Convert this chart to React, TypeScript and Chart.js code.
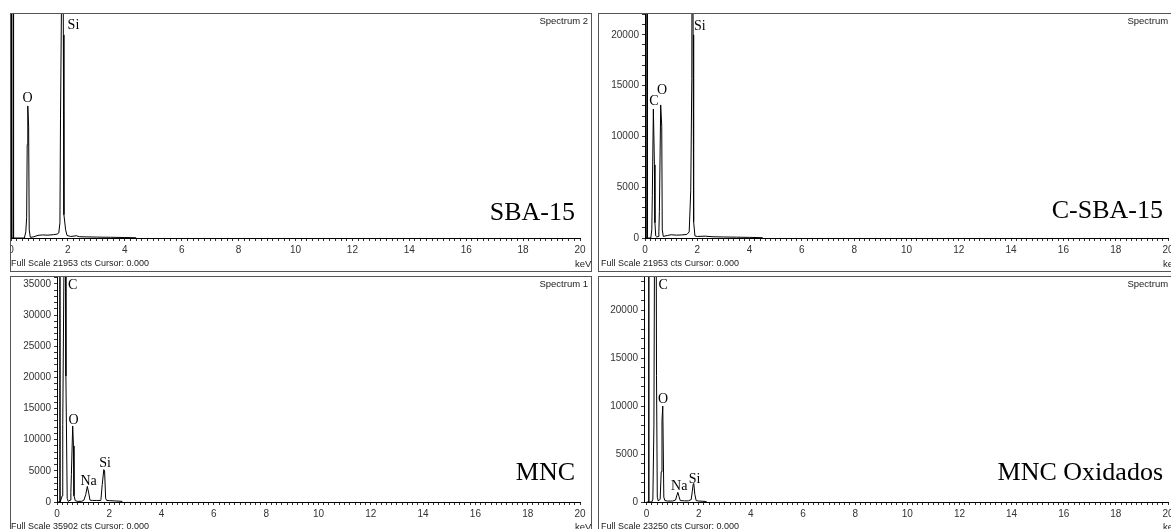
import React, { useEffect, useRef } from 'react';
import { Chart, registerables } from 'chart.js';

Chart.register(...registerables);

// ---------------- data ----------------
const xTickLabels = ['0', '2', '4', '6', '8', '10', '12', '14', '16', '18', '20'];
const yTickLabels22k = ['0', '5000', '10000', '15000', '20000'];
const yTickLabels36k = ['0', '5000', '10000', '15000', '20000', '25000', '30000', '35000'];

const sampleNames = ['SBA-15', 'C-SBA-15', 'MNC', 'MNC Oxidados'];
const spectrumNames = ['Spectrum 2', 'Spectrum 3', 'Spectrum 1', 'Spectrum 4'];
const fullScales = [21953, 21953, 35902, 23250];

// SBA-15 (keV, counts)
const sba15Energy = [0, 0.07, 0.08, 0.09, 0.47, 0.52, 0.55, 0.57, 0.59, 0.62, 0.64, 0.68, 0.8, 0.95, 1.1, 1.3, 1.5, 1.62, 1.68, 1.72, 1.74, 1.78, 1.81, 1.84, 1.86, 1.92, 1.97, 2.1, 2.3, 2.4, 2.6, 3.0, 3.5, 4.0, 4.4];
const sba15Counts = [0, 0, 40000, 0, 0, 600, 2000, 9200, 13000, 11000, 800, 60, 120, 260, 300, 280, 330, 380, 500, 1500, 11800, 25000, 45000, 20000, 2300, 800, 250, 150, 220, 130, 110, 90, 70, 50, 20];

// C-SBA-15
const cSbaEnergy = [0, 0.07, 0.08, 0.09, 0.22, 0.26, 0.28, 0.32, 0.36, 0.38, 0.41, 0.45, 0.5, 0.53, 0.55, 0.6, 0.64, 0.66, 0.7, 0.85, 1.0, 1.2, 1.4, 1.6, 1.69, 1.75, 1.79, 1.81, 1.84, 1.86, 1.91, 2.0, 2.3, 2.6, 3.0, 3.5, 4.0, 4.5];
const cSbaCounts = [0, 0, 40000, 0, 0, 800, 4200, 12700, 7200, 1500, 200, 100, 150, 600, 2600, 13100, 11000, 800, 150, 250, 320, 280, 300, 350, 600, 4700, 15700, 45000, 20000, 1600, 200, 150, 180, 120, 100, 80, 60, 30];

// MNC
const mncEnergy = [0, 0.1, 0.11, 0.12, 0.15, 0.2, 0.22, 0.27, 0.3, 0.33, 0.34, 0.39, 0.43, 0.5, 0.53, 0.55, 0.6, 0.63, 0.65, 0.7, 0.8, 0.95, 1.03, 1.1, 1.16, 1.22, 1.26, 1.35, 1.5, 1.65, 1.68, 1.73, 1.79, 1.82, 1.86, 1.9, 2.0, 2.2, 2.5];
const mncCounts = [0, 0, 60000, 0, 0, 1000, 12400, 40000, 60000, 40000, 20200, 600, 100, 300, 1500, 4400, 12200, 9000, 1000, 200, 100, 120, 300, 1200, 2500, 1300, 300, 250, 250, 250, 400, 2800, 5200, 5000, 600, 250, 220, 180, 100];

// MNC Oxidados
const mncOxEnergy = [0, 0.07, 0.08, 0.09, 0.2, 0.24, 0.28, 0.32, 0.36, 0.38, 0.41, 0.45, 0.52, 0.56, 0.59, 0.62, 0.66, 0.7, 0.8, 1.0, 1.11, 1.16, 1.2, 1.24, 1.29, 1.45, 1.6, 1.71, 1.75, 1.79, 1.81, 1.85, 1.9, 2.0, 2.3];
const mncOxCounts = [0, 0, 40000, 0, 0, 300, 8000, 40000, 40000, 13200, 500, 100, 300, 3150, 8500, 10000, 500, 150, 100, 100, 200, 700, 1000, 600, 150, 120, 120, 250, 1060, 1900, 1930, 800, 150, 100, 50];

// peak labels: element, energy (keV), counts (baseline), anchor
const sba15Peaks = [
  { text: 'O', x: 0.58, y: 13400, align: 'center' },
  { text: 'Si', x: 1.99, y: 20600, align: 'left' },
];
const cSbaPeaks = [
  { text: 'C', x: 0.34, y: 13100, align: 'center' },
  { text: 'O', x: 0.65, y: 14200, align: 'center' },
  { text: 'Si', x: 1.87, y: 20500, align: 'left' },
];
const mncPeaks = [
  { text: 'C', x: 0.42, y: 34200, align: 'left' },
  { text: 'O', x: 0.63, y: 12500, align: 'center' },
  { text: 'Na', x: 1.21, y: 2700, align: 'center' },
  { text: 'Si', x: 1.84, y: 5600, align: 'center' },
];
const mncOxPeaks = [
  { text: 'C', x: 0.46, y: 22200, align: 'left' },
  { text: 'O', x: 0.63, y: 10300, align: 'center' },
  { text: 'Na', x: 1.25, y: 1250, align: 'center' },
  { text: 'Si', x: 1.84, y: 2000, align: 'center' },
];

// ---------------- layout ----------------
const PW = 582;
const PH = 259;
const X_MINOR = 0.2;
const Y_MINOR = 1000;

const panels = [
  { left: 10, top: 13, xMin: 0, yMax: 22050, yAxisW: 1, showY: false, xAxisH: 34, nameY: 207, fsX: 1,
    energy: sba15Energy, counts: sba15Counts, peaks: sba15Peaks, yLabels: yTickLabels22k,
    name: sampleNames[0], spectrum: spectrumNames[0], full: fullScales[0] },
  { left: 598, top: 13, xMin: 0, yMax: 22050, yAxisW: 47, showY: true, xAxisH: 34, nameY: 205, fsX: 3,
    energy: cSbaEnergy, counts: cSbaCounts, peaks: cSbaPeaks, yLabels: yTickLabels22k,
    name: sampleNames[1], spectrum: spectrumNames[1], full: fullScales[1] },
  { left: 10, top: 276, xMin: 0, yMax: 36100, yAxisW: 47, showY: true, xAxisH: 33, nameY: 204, fsX: 1,
    energy: mncEnergy, counts: mncCounts, peaks: mncPeaks, yLabels: yTickLabels36k,
    name: sampleNames[2], spectrum: spectrumNames[2], full: fullScales[2] },
  { left: 598, top: 276, xMin: -0.1, yMax: 23450, yAxisW: 46, showY: true, xAxisH: 33, nameY: 204, fsX: 3,
    energy: mncOxEnergy, counts: mncOxCounts, peaks: mncOxPeaks, yLabels: yTickLabels22k,
    name: sampleNames[3], spectrum: spectrumNames[3], full: fullScales[3] },
];

type PanelCfg = (typeof panels)[number];

function minorTicks(from: number, to: number, step: number) {
  const out: { value: number }[] = [];
  const n0 = Math.ceil(from / step - 1e-9);
  const n1 = Math.floor(to / step + 1e-9);
  for (let n = n0; n <= n1; n++) out.push({ value: Math.round(n * step * 1000) / 1000 });
  return out;
}

function Panel({ p }: { p: PanelCfg }) {
  const ref = useRef<HTMLCanvasElement | null>(null);

  useEffect(() => {
    const canvas = ref.current;
    if (!canvas) return;

    const deco = {
      id: 'deco',
      afterDraw(chart: any) {
        const { ctx, width, height } = chart;
        const xs = chart.scales.x;
        const ys = chart.scales.y;
        ctx.save();
        ctx.strokeStyle = '#555';
        ctx.lineWidth = 1;
        ctx.strokeRect(0.5, 0.5, width - 1, height - 1);

        ctx.fillStyle = '#222';
        ctx.textBaseline = 'alphabetic';
        ctx.font = '9.5px "Liberation Sans"';
        ctx.textAlign = 'right';
        ctx.fillText(p.spectrum, 578, 11);

        ctx.textAlign = 'left';
        ctx.font = '9px "Liberation Sans"';
        ctx.fillText(`Full Scale ${p.full} cts Cursor: 0.000`, p.fsX, 253);
        ctx.font = '9.5px "Liberation Sans"';
        ctx.fillText('keV', 565, 254);

        ctx.fillStyle = '#000';
        ctx.font = '26px "Liberation Serif"';
        ctx.textAlign = 'right';
        ctx.fillText(p.name, 565, p.nameY);

        ctx.font = '14px "Liberation Serif"';
        for (const l of p.peaks) {
          ctx.textAlign = l.align as CanvasTextAlign;
          ctx.fillText(l.text, xs.getPixelForValue(l.x), ys.getPixelForValue(l.y));
        }
        ctx.restore();
      },
    };

    const chart = new Chart(canvas, {
      type: 'line',
      data: {
        datasets: [
          {
            data: p.energy.map((e, i) => ({ x: e, y: p.counts[i] })),
            borderColor: '#000',
            borderWidth: 1,
            pointRadius: 0,
            tension: 0,
            fill: false,
          },
        ],
      },
      options: {
        responsive: false,
        animation: false,
        devicePixelRatio: 1,
        events: [],
        layout: { padding: { left: 0, top: 1, right: PW - 570, bottom: 0 } },
        plugins: { legend: { display: false }, tooltip: { enabled: false } },
        scales: {
          x: {
            type: 'linear',
            min: p.xMin,
            max: 20,
            afterBuildTicks: (s: any) => {
              s.ticks = minorTicks(Math.max(0, p.xMin), 20, X_MINOR);
            },
            afterFit: (s: any) => {
              s.height = p.xAxisH;
              s.paddingLeft = 0;
              s.paddingRight = 0;
            },
            ticks: {
              autoSkip: false,
              maxRotation: 0,
              minRotation: 0,
              padding: 3,
              color: '#333',
              font: { family: '"Liberation Sans"', size: 10 },
              callback: (v: any) => {
                const s = String(Math.round(Number(v) * 1000) / 1000);
                return xTickLabels.includes(s) ? s : '';
              },
            },
            grid: { drawOnChartArea: false, tickLength: 3, color: '#333' },
            border: { display: true, color: '#000', width: 1 },
          },
          y: {
            type: 'linear',
            min: 0,
            max: p.yMax,
            afterBuildTicks: (s: any) => {
              s.ticks = minorTicks(0, p.yMax, Y_MINOR);
            },
            afterFit: (s: any) => {
              s.width = p.yAxisW;
              s.paddingTop = 0;
              s.paddingBottom = 0;
            },
            ticks: {
              display: p.showY,
              autoSkip: false,
              padding: 3,
              color: '#333',
              font: { family: '"Liberation Sans"', size: 10 },
              callback: (v: any) => {
                const s = String(Math.round(Number(v)));
                return p.yLabels.includes(s) ? s : '';
              },
            },
            grid: { drawOnChartArea: false, drawTicks: p.showY, tickLength: 3, color: '#333' },
            border: { display: true, color: '#000', width: 1 },
          },
        },
      },
      plugins: [deco],
    } as any);

    return () => chart.destroy();
  }, [p]);

  return (
    <canvas
      ref={ref}
      width={PW}
      height={PH}
      style={{ position: 'absolute', left: p.left, top: p.top, width: PW, height: PH, display: 'block' }}
    />
  );
}

export default function App() {
  return (
    <div
      style={{
        position: 'fixed',
        left: 0,
        top: 0,
        width: 1171,
        height: 529,
        overflow: 'hidden',
        background: '#fff',
      }}
    >
      {panels.map((p) => (
        <Panel key={p.name} p={p} />
      ))}
    </div>
  );
}
